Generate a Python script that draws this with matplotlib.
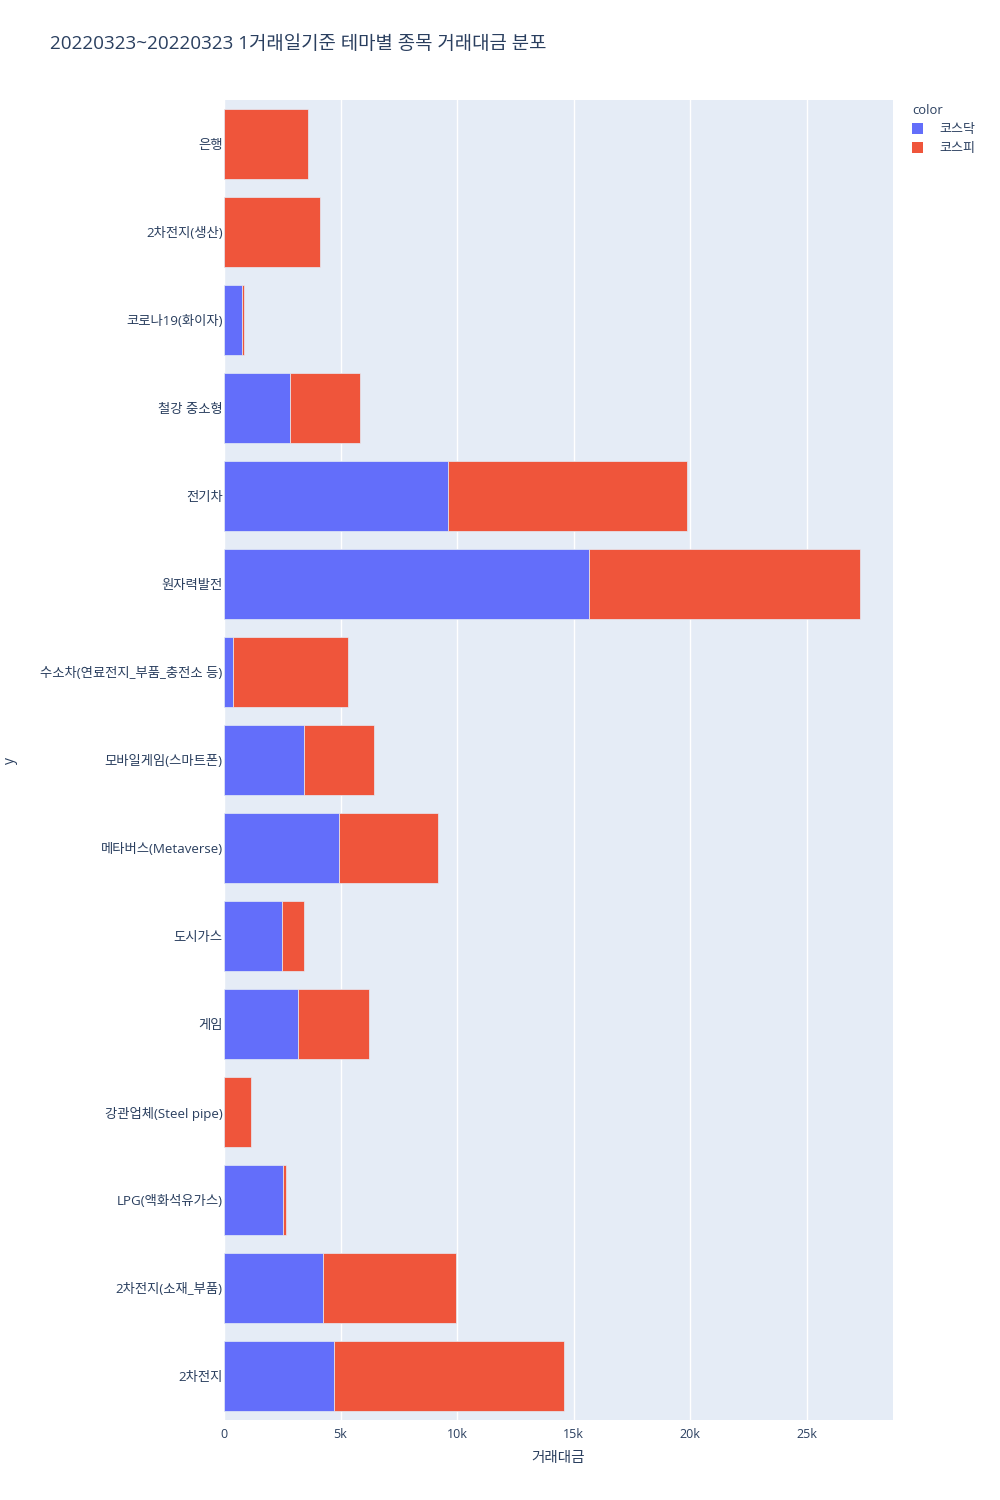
import matplotlib
matplotlib.use("Agg")
import matplotlib.pyplot as plt
from matplotlib.patches import Patch
from matplotlib.ticker import FuncFormatter, MultipleLocator

plt.rcParams['font.family'] = ['Open Sans', 'Noto Sans CJK KR', 'DejaVu Sans']

# categories from bottom to top
themes = ['2차전지', '2차전지(소재_부품)', 'LPG(액화석유가스)', '강관업체(Steel pipe)', '게임',
          '도시가스', '메타버스(Metaverse)', '모바일게임(스마트폰)', '수소차(연료전지_부품_충전소 등)',
          '원자력발전', '전기차', '철강 중소형', '코로나19(화이자)', '2차전지(생산)', '은행']
kosdaq = [4720, 4250, 2530, 0, 3180, 2490, 4940, 3430, 390, 15670, 9610, 2830, 770, 0, 0]
kospi_total = [14590, 9960, 2660, 1160, 6220, 3430, 9180, 6440, 5320, 27300, 19870, 5840, 860, 4120, 3600]
kospi = [t - k for t, k in zip(kospi_total, kosdaq)]
series_names = ['코스닥', '코스피']
colors = ['#636EFA', '#EF553B']
title = '20220323~20220323 1거래일기준 테마별 종목 거래대금 분포'

txt = '#2a3f5f'
fig = plt.figure(figsize=(10, 15), dpi=100)
ax = fig.add_axes([0.224, 0.0533, 0.669, 0.88])
ax.set_facecolor('#E5ECF6')

y = list(range(len(themes)))
ax.barh(y, kosdaq, height=0.8, color=colors[0], edgecolor='#E5ECF6', linewidth=0.5, zorder=3)
ax.barh(y, kospi, left=kosdaq, height=0.8, color=colors[1], edgecolor='#E5ECF6', linewidth=0.5, zorder=3)

ax.set_ylim(-0.5, len(themes) - 0.5)
ax.set_xlim(0, 28700)
ax.xaxis.set_major_locator(MultipleLocator(5000))
ax.xaxis.set_major_formatter(FuncFormatter(lambda v, p: '0' if v == 0 else f'{int(v/1000)}k'))
ax.set_yticks(y)
ax.set_yticklabels(themes, fontsize=9.6)
ax.grid(axis='x', color='white', linewidth=1, zorder=0)
ax.set_axisbelow(True)
for s in ax.spines.values():
    s.set_visible(False)
ax.tick_params(axis='both', length=0, colors=txt)
ax.tick_params(axis='x', labelsize=9.0, pad=6)
ax.tick_params(axis='y', pad=1)

ax.set_xlabel('거래대금', color=txt, fontsize=10.5, labelpad=7)
fig.text(0.01, 0.493, 'y', rotation=90, color=txt, fontsize=10, ha='center', va='center')
fig.text(0.05, 0.9705, title, color=txt, fontsize=13.6, ha='left', va='center')

handles = [Patch(facecolor=c, label=n) for c, n in zip(colors, series_names)]
leg = fig.legend(handles=handles, title='color', loc='upper left', bbox_to_anchor=(0.907, 0.934),
                 frameon=False, fontsize=9.4, title_fontsize=9.4, handlelength=0.85, handleheight=0.85,
                 handletextpad=1.2, labelspacing=0.45, borderaxespad=0)
leg._legend_box.align = 'left'
# shift entries (not title) a bit to the right, like plotly's indented items
leg._legend_handle_box.set_offset(lambda w, h, xd, yd, r: (0, 0))
for t in leg.get_texts():
    t.set_color(txt)
leg.get_title().set_color(txt)

fig.savefig('out.png', dpi=100, facecolor='white')
